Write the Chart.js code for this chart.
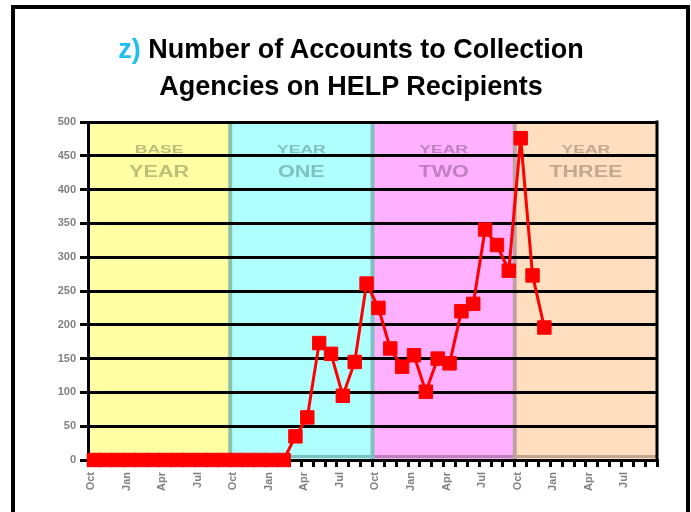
<!DOCTYPE html>
<html>
<head>
<meta charset="utf-8">
<script src="https://cdn.jsdelivr.net/npm/chart.js@4"></script>
<style>
  body { margin: 0; background: #fff; }
  #wrap { position: relative; width: 691px; height: 512px; overflow: hidden; }
  #frame { position: absolute; left: 11px; top: 5px; width: 671px; height: 600px; border: 4px solid #000; }
  #title { position: absolute; left: 11px; width: 680px; top: 31px; text-align: center;
           font: bold 27px "Liberation Sans", Arial, sans-serif; line-height: 37px; color: #000; }
  #title span { color: #1ec0f0; }
  canvas { position: absolute; left: 0; top: 0; }
</style>
</head>
<body>
<div id="wrap">
  <div id="frame"></div>
  <canvas id="chart" width="691" height="512"></canvas>
  <div id="title"><span>z)</span> Number of Accounts to Collection<br>Agencies on HELP Recipients</div>
</div>
<script>
// months run Oct (base year) .. Sep (year three)
const months = ["Oct", "Nov", "Dec", "Jan", "Feb", "Mar", "Apr", "May", "Jun", "Jul", "Aug", "Sep"];
const categories = [].concat(months, months, months, months);

// accounts sent to collection agencies, one value per month (null = no data yet)
const accounts = [
  0, 0, 0, 0, 0, 0, 0, 0, 0, 0, 0, 0,
  0, 0, 0, 0, 0, 35, 63, 173, 157, 95, 145, 261,
  225, 165, 138, 155, 101, 150, 143, 220, 231, 341, 318, 280,
  476, 273, 196, null, null, null, null, null, null, null, null, null
];

const yMin = 0, yMax = 500, yStep = 50;

// background bands, one per year
const bandLabels = [["BASE", "YEAR"], ["YEAR", "ONE"], ["YEAR", "TWO"], ["YEAR", "THREE"]];
const bandColors = ["#ffffa3", "#b0ffff", "#ffb0ff", "#ffdfc0"];
const bandTextColors = ["#bfbf7a", "#80c0c0", "#c080c0", "#c4a88e"];
const bandEdgeColors = ["#c0c080", "#80c0c0", "#c080c0", "#c0a890"];
const bandSeparators = ["#8cc2aa", "#80c0c0", "#c0a0a0"];

const bandsPlugin = {
  id: "bands",
  beforeDraw(chart) {
    const { ctx, chartArea: a, scales: { x, y } } = chart;
    const half = (x.getPixelForValue(1) - x.getPixelForValue(0)) / 2;
    ctx.save();
    bandColors.forEach((c, i) => {
      const l = x.getPixelForValue(i * 12) - half;
      const r = x.getPixelForValue(i * 12 + 11) + half;
      ctx.fillStyle = c;
      ctx.fillRect(l, a.top, r - l, a.bottom - a.top);
      ctx.fillStyle = bandEdgeColors[i];
      ctx.fillRect(l, a.bottom - 5, r - l, 3);

      // band label, two lines, stretched wide like the original
      const cx = (l + r) / 2;
      ctx.fillStyle = bandTextColors[i];
      ctx.textAlign = "center";
      ctx.textBaseline = "middle";
      ctx.save();
      ctx.translate(cx, y.getPixelForValue(458));
      ctx.scale(1.6, 1);
      ctx.font = "bold 11px 'Liberation Sans', Arial, sans-serif";
      ctx.fillText(bandLabels[i][0], 0, 0);
      ctx.restore();
      ctx.save();
      ctx.translate(cx, y.getPixelForValue(425));
      ctx.scale(1.35, 1);
      ctx.font = "bold 16px 'Liberation Sans', Arial, sans-serif";
      ctx.fillText(bandLabels[i][1], 0, 0);
      ctx.restore();
    });
    bandSeparators.forEach((c, i) => {
      const b = x.getPixelForValue((i + 1) * 12) - half;
      ctx.fillStyle = c;
      ctx.fillRect(b - 2, a.top, 4, a.bottom - a.top);
    });
    ctx.restore();
  },
  afterDraw(chart) {
    const { ctx, chartArea: a } = chart;
    ctx.save();
    ctx.strokeStyle = "#000";
    ctx.lineWidth = 3;
    ctx.beginPath();
    ctx.moveTo(a.right, a.top - 1.5);
    ctx.lineTo(a.right, a.bottom + 1.5);
    ctx.stroke();
    ctx.restore();
  }
};

new Chart(document.getElementById("chart"), {
  type: "line",
  data: {
    labels: categories,
    datasets: [{
      data: accounts,
      borderColor: "#ff0000",
      backgroundColor: "#ff0000",
      borderWidth: 3,
      pointStyle: "rect",
      pointRadius: 9.5,
      pointBorderWidth: 1,
      pointBackgroundColor: "#ff0000",
      pointBorderColor: "#ff0000",
      tension: 0,
      clip: false
    }]
  },
  options: {
    responsive: false,
    animation: false,
    layout: { padding: { left: 10, right: 34, top: 122, bottom: 0 } },
    plugins: { legend: { display: false }, tooltip: { enabled: false } },
    scales: {
      x: {
        offset: true,
        afterFit(scale) { scale.height = 52; },
        grid: { offset: true, drawOnChartArea: false, color: "#000", lineWidth: 3, tickLength: 7 },
        border: { color: "#000", width: 3 },
        ticks: {
          autoSkip: false,
          minRotation: 90,
          maxRotation: 90,
          padding: 5,
          labelOffset: -3,
          color: "#808080",
          font: { family: "'Liberation Sans', Arial, sans-serif", size: 11, weight: "bold" },
          callback: (v, i) => (i % 3 === 0 ? categories[i] : "")
        }
      },
      y: {
        min: yMin,
        max: yMax,
        afterFit(scale) { scale.width = 78; },
        grid: { color: "#000", lineWidth: 3, tickLength: 8 },
        border: { color: "#000", width: 3 },
        ticks: {
          stepSize: yStep,
          padding: 4,
          color: "#808080",
          font: { family: "'Liberation Sans', Arial, sans-serif", size: 11, weight: "bold" }
        }
      }
    }
  },
  plugins: [bandsPlugin]
});
</script>
</body>
</html>
